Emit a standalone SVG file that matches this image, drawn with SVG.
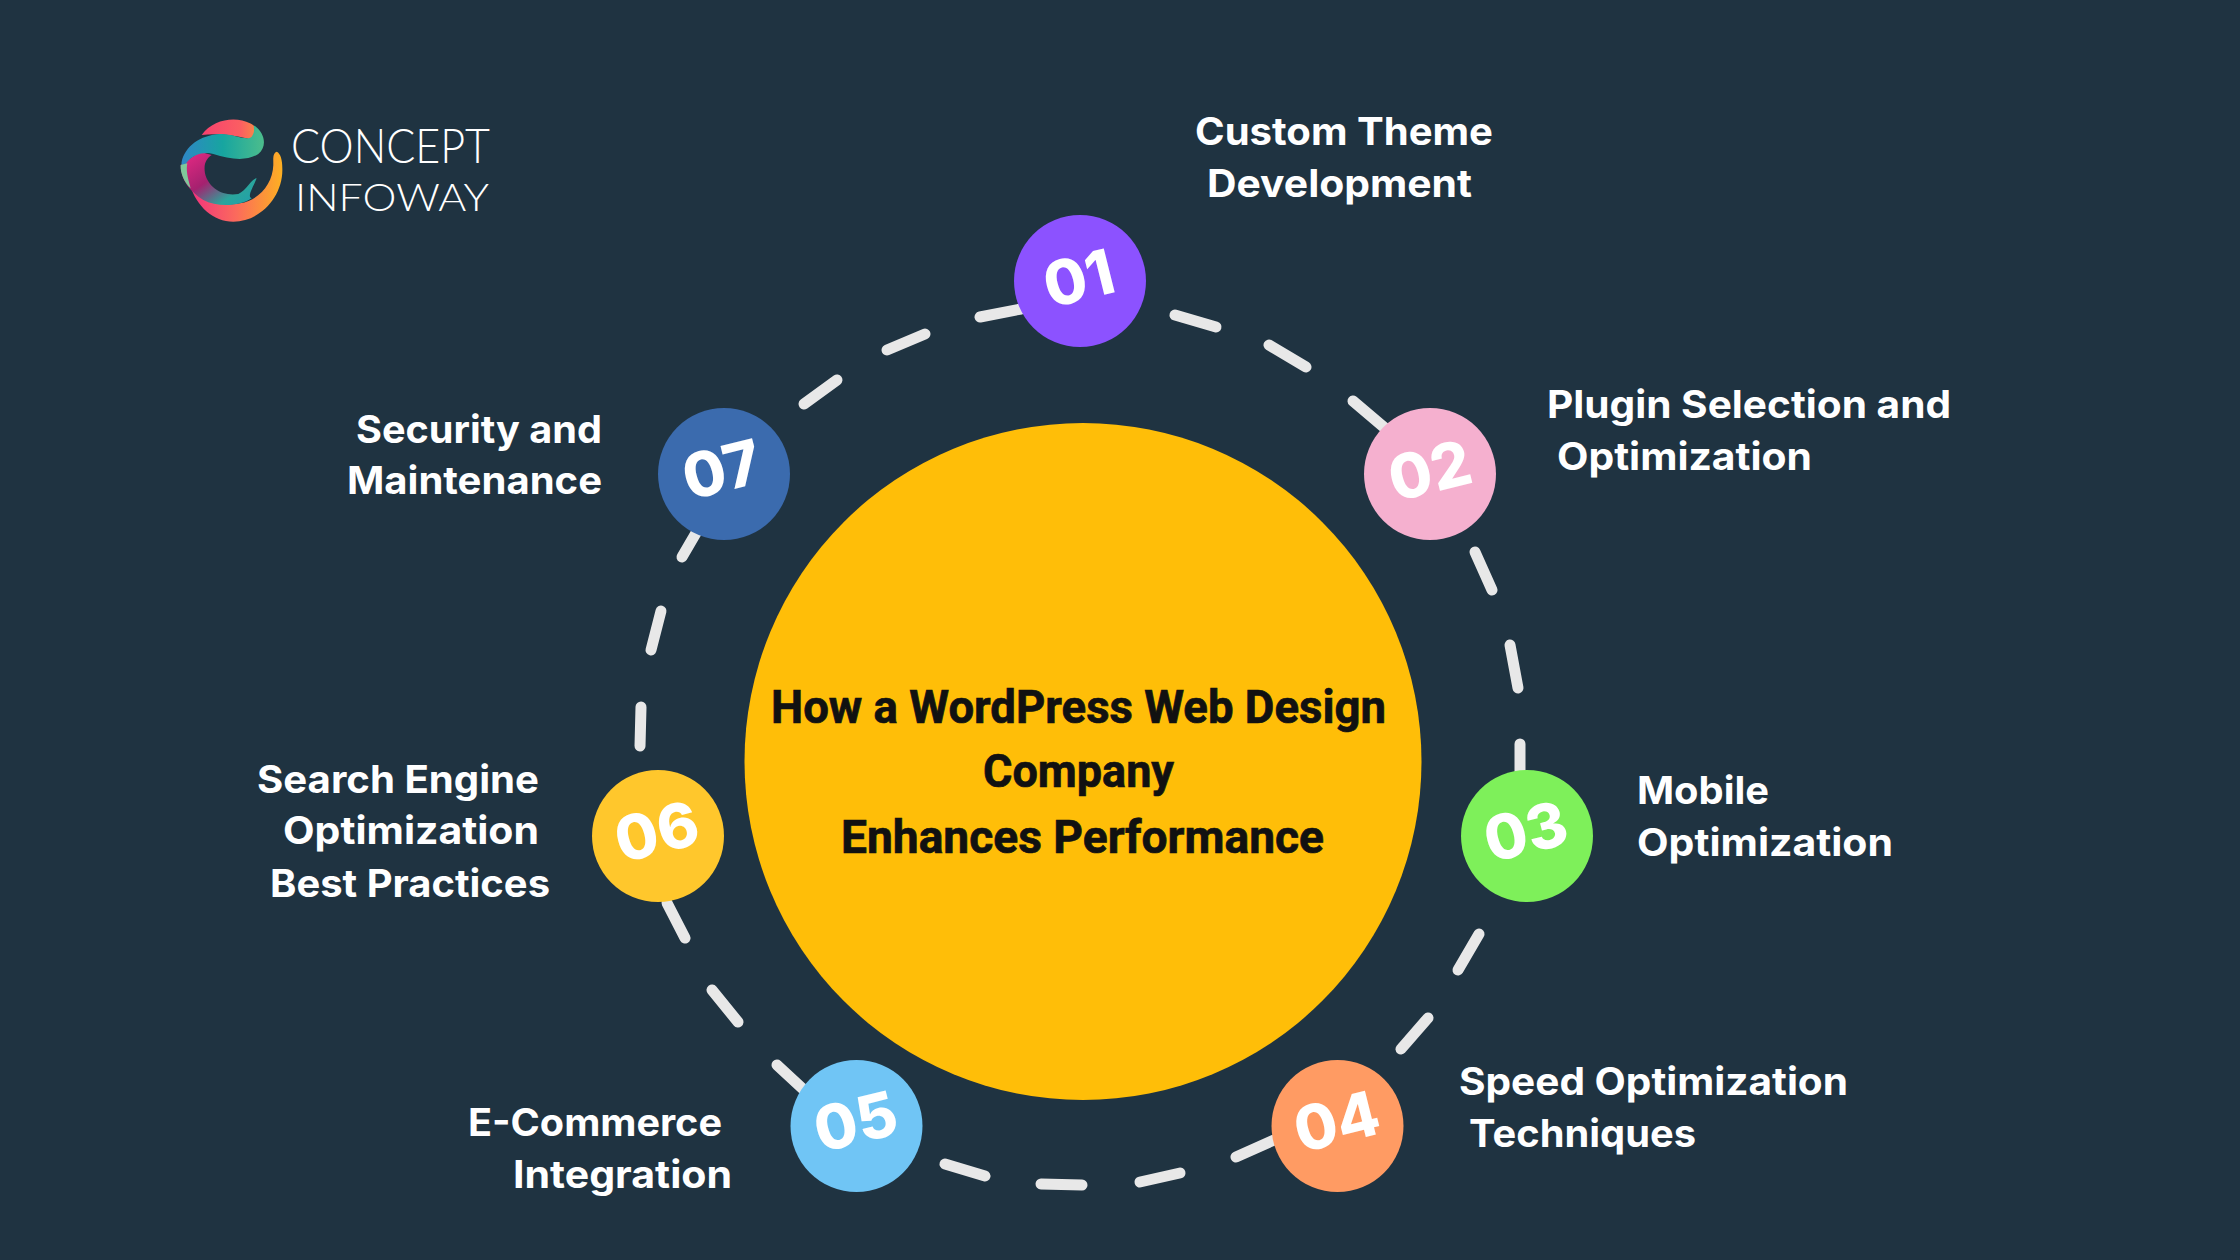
<svg xmlns="http://www.w3.org/2000/svg" width="2240" height="1260" viewBox="0 0 2240 1260">
<style>
.lbl{font-family:"Inter","Liberation Sans",sans-serif;font-weight:700;font-size:38px;fill:#fff}
.num{font-family:"Inter","Liberation Sans",sans-serif;font-weight:800;font-size:62px;fill:#fff;text-anchor:middle}
.ttl{font-family:"Roboto","Liberation Sans",sans-serif;font-weight:700;font-size:46px;fill:#111;stroke:#111;stroke-width:.7}
.logo{font-family:"Lato","Liberation Sans",sans-serif;font-weight:300;fill:#fff}
#connectors line{stroke:#e8e8e8;stroke-width:11;stroke-linecap:round}
</style>
<defs>
<linearGradient id="gA" x1="0" x2="1" y1="0" y2="0"><stop offset="0" stop-color="#f0327e"/><stop offset=".5" stop-color="#fb6a5c"/><stop offset="1" stop-color="#fdb022"/></linearGradient>
<linearGradient id="gB" x1="0" x2="1" y1="0" y2="1"><stop offset="0" stop-color="#ec2a85"/><stop offset=".45" stop-color="#a5216f"/><stop offset=".75" stop-color="#2aa59c"/><stop offset="1" stop-color="#1e9fae"/></linearGradient>
<linearGradient id="gC" x1="0" x2="1" y1="0" y2="0"><stop offset="0" stop-color="#f8416f"/><stop offset=".7" stop-color="#fb5e62"/><stop offset="1" stop-color="#f88b45"/></linearGradient>
<linearGradient id="gD" x1="0" x2="1" y1="0" y2="0"><stop offset="0" stop-color="#2f86c6"/><stop offset=".5" stop-color="#17a5a0"/><stop offset="1" stop-color="#4cbd8c"/></linearGradient>
</defs>
<rect width="2240" height="1260" fill="#1f3341"/>
<g id="logo">
<g transform="translate(150 90) scale(.3333)">
<path fill="url(#gA)" d="M120 285C140 350 190 395 250 395C330 395 400 320 397 235C397 210 392 190 380 185C368 190 370 205 370 225C368 280 330 330 270 340C210 352 160 320 130 280Z"/>
<path fill="url(#gB)" d="M92 225C92 270 120 305 160 330C200 352 270 350 305 325C290 320 310 290 320 265C305 265 290 300 265 312C220 320 175 295 165 250C160 220 170 205 185 195L150 185Z"/>
<path fill="url(#gC)" d="M155 135C190 85 260 78 300 100C325 112 330 135 305 150C260 135 200 130 155 135Z"/>
<path fill="url(#gD)" d="M95 215C105 170 150 135 210 132C250 130 290 155 305 140C320 120 305 105 315 108C345 130 352 170 325 192C290 215 240 208 190 192C160 184 130 195 112 215C105 225 92 235 95 215Z"/>
<path fill="#7fc79a" d="M92 225C90 250 105 280 122 295C112 260 108 240 112 220Z"/>
</g>
<text class="logo" x="291" y="163" font-size="47" textLength="199" lengthAdjust="spacingAndGlyphs">CONCEPT</text>
<text class="logo" x="295" y="211" font-size="37" textLength="194" lengthAdjust="spacingAndGlyphs">INFOWAY</text>
</g>
<g id="connectors">
<line x1="980" y1="317" x2="1021" y2="309"/>
<line x1="887" y1="350" x2="925" y2="334"/>
<line x1="804" y1="404" x2="837" y2="380"/>
<line x1="682" y1="557" x2="696" y2="533"/>
<line x1="651" y1="650" x2="661" y2="611"/>
<line x1="640" y1="746" x2="641" y2="707"/>
<line x1="667" y1="903" x2="685" y2="938"/>
<line x1="712" y1="990" x2="738" y2="1022"/>
<line x1="777" y1="1065" x2="804" y2="1090"/>
<line x1="945" y1="1164" x2="985" y2="1176"/>
<line x1="1041" y1="1184" x2="1082" y2="1185"/>
<line x1="1140" y1="1182" x2="1180" y2="1173"/>
<line x1="1236" y1="1157" x2="1274" y2="1140"/>
<line x1="1401" y1="1049" x2="1428" y2="1018"/>
<line x1="1458" y1="970" x2="1479" y2="934"/>
<line x1="1520" y1="771" x2="1520" y2="744"/>
<line x1="1510" y1="645" x2="1518" y2="688"/>
<line x1="1475" y1="552" x2="1492" y2="590"/>
<line x1="1353" y1="401" x2="1386" y2="429"/>
<line x1="1269" y1="345" x2="1306" y2="367"/>
<line x1="1175" y1="315" x2="1216" y2="327"/>
</g>
<g id="center">
<circle cx="1083" cy="761.5" r="338.5" fill="#ffbe08"/>
<text class="ttl" x="771" y="723" textLength="615" lengthAdjust="spacingAndGlyphs">How a WordPress Web Design</text>
<text class="ttl" x="983" y="787" textLength="191" lengthAdjust="spacingAndGlyphs">Company</text>
<text class="ttl" x="841" y="853" textLength="483" lengthAdjust="spacingAndGlyphs">Enhances Performance</text>
</g>
<g id="node-01">
<circle cx="1080" cy="281" r="66" fill="#8c52ff"/>
<text class="num" transform="translate(1084 300) rotate(-14)">01</text>
<text class="lbl" x="1195" y="145" textLength="298" lengthAdjust="spacingAndGlyphs">Custom Theme</text>
<text class="lbl" x="1207" y="197" textLength="265" lengthAdjust="spacingAndGlyphs">Development</text>
</g>
<g id="node-02">
<circle cx="1430" cy="474" r="66" fill="#f5b0cf"/>
<text class="num" transform="translate(1435 492) rotate(-14)">02</text>
<text class="lbl" x="1547" y="418" textLength="404" lengthAdjust="spacingAndGlyphs">Plugin Selection and</text>
<text class="lbl" x="1557" y="470" textLength="255" lengthAdjust="spacingAndGlyphs">Optimization</text>
</g>
<g id="node-03">
<circle cx="1527" cy="836" r="66" fill="#7ef05a"/>
<text class="num" transform="translate(1531 853) rotate(-14)">03</text>
<text class="lbl" x="1637" y="804" textLength="132" lengthAdjust="spacingAndGlyphs">Mobile</text>
<text class="lbl" x="1637" y="856" textLength="256" lengthAdjust="spacingAndGlyphs">Optimization</text>
</g>
<g id="node-04">
<circle cx="1337.500" cy="1126" r="66" fill="#ff9b63"/>
<text class="num" transform="translate(1342 1143) rotate(-14)">04</text>
<text class="lbl" x="1459" y="1095" textLength="389" lengthAdjust="spacingAndGlyphs">Speed Optimization</text>
<text class="lbl" x="1469" y="1147" textLength="227" lengthAdjust="spacingAndGlyphs">Techniques</text>
</g>
<g id="node-05">
<circle cx="856.500" cy="1126" r="66" fill="#70c5f5"/>
<text class="num" transform="translate(861 1143) rotate(-14)">05</text>
<text class="lbl" x="468" y="1136" textLength="254" lengthAdjust="spacingAndGlyphs">E-Commerce</text>
<text class="lbl" x="513" y="1188" textLength="219" lengthAdjust="spacingAndGlyphs">Integration</text>
</g>
<g id="node-06">
<circle cx="658" cy="836" r="66" fill="#ffc72c"/>
<text class="num" transform="translate(662 853) rotate(-14)">06</text>
<text class="lbl" x="257" y="793" textLength="282" lengthAdjust="spacingAndGlyphs">Search Engine</text>
<text class="lbl" x="283" y="844" textLength="256" lengthAdjust="spacingAndGlyphs">Optimization</text>
<text class="lbl" x="270" y="897" textLength="280" lengthAdjust="spacingAndGlyphs">Best Practices</text>
</g>
<g id="node-07">
<circle cx="724" cy="474" r="66" fill="#3b6bae"/>
<text class="num" transform="translate(727 491) rotate(-14)">07</text>
<text class="lbl" x="356" y="443" textLength="246" lengthAdjust="spacingAndGlyphs">Security and</text>
<text class="lbl" x="347" y="494" textLength="255" lengthAdjust="spacingAndGlyphs">Maintenance</text>
</g>
</svg>
